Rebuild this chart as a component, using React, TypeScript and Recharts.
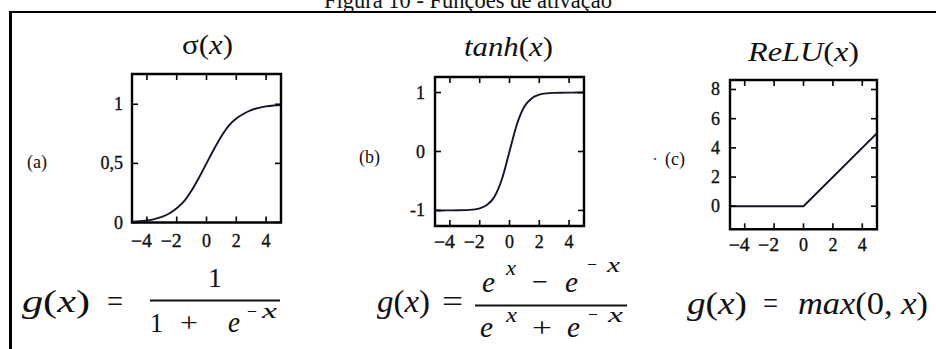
import React from 'react';
import { LineChart, Line, XAxis, YAxis, ReferenceArea } from 'recharts';

// ---- data ----
const xTicks = [-4, -2, 0, 2, 4];
const xTickLabels = ['−4', '−2', '0', '2', '4'];

const curveX = [-5, -4.5, -4, -3.5, -3, -2.5, -2, -1.5, -1, -0.5, 0, 0.5, 1, 1.5, 2, 2.5, 3, 3.5, 4, 4.5, 5];
const sigmoidY = [0.007, 0.011, 0.018, 0.029, 0.047, 0.076, 0.12, 0.18, 0.27, 0.38, 0.5, 0.62, 0.73, 0.82, 0.88, 0.92, 0.95, 0.97, 0.982, 0.989, 0.993];
const tanhY = [-1, -1, -0.999, -0.998, -0.995, -0.987, -0.964, -0.905, -0.762, -0.462, 0, 0.462, 0.762, 0.905, 0.964, 0.987, 0.995, 0.998, 0.999, 1, 1];
const reluX = [-5, 0, 5];
const reluY = [0, 0, 5];

const sigmoidTicks = [0, 0.5, 1];
const sigmoidTickLabels = ['0', '0,5', '1'];
const tanhTicks = [-1, 0, 1];
const tanhTickLabels = ['-1', '0', '1'];
const reluTicks = [0, 2, 4, 6, 8];
const reluTickLabels = ['0', '2', '4', '6', '8'];

const sigmoidData = curveX.map((x, i) => ({ x, y: sigmoidY[i] }));
const tanhData = curveX.map((x, i) => ({ x, y: tanhY[i] }));
const reluData = reluX.map((x, i) => ({ x, y: reluY[i] }));

// ---- styling ----
const SERIF = '"Liberation Serif", "Times New Roman", serif';
const MATH = '"Liberation Serif", serif';
const INK = '#111';
const TICK = 6;
const tickStroke = { stroke: '#000', strokeWidth: 1.6 };
const heavy = { stroke: INK, strokeWidth: 0.35 };

type Box = { x: number; y: number; w: number; h: number };

const labelOf = (ticks: number[], labels: string[], v: number) => {
  const i = ticks.indexOf(v);
  return i >= 0 ? labels[i] : '';
};

// bottom axis tick: inner tick at the bottom and at the top edge of the frame, plus the label
const bottomTick = (dy: number, h: number) => (p: any) => {
  const lbl = labelOf(xTicks, xTickLabels, p.payload.value);
  const neg = lbl.startsWith('−');
  return (
    <g>
      <line x1={p.x} y1={p.y} x2={p.x} y2={p.y - TICK} {...tickStroke} />
      <line x1={p.x} y1={p.y - h} x2={p.x} y2={p.y - h + TICK} {...tickStroke} />
      {neg ? (
        <text x={p.x + 5} y={p.y + dy} textAnchor="end" fontSize={18} fontFamily={SERIF} fill={INK}
          textLength={21} lengthAdjust="spacingAndGlyphs" {...heavy}>{lbl}</text>
      ) : (
        <text x={p.x} y={p.y + dy} textAnchor="middle" fontSize={18} fontFamily={SERIF} fill={INK} {...heavy}>{lbl}</text>
      )}
    </g>
  );
};

// left axis tick: inner tick on the left and right edges of the frame, plus the label
const leftTick = (ticks: number[], labels: string[], gap: number, w: number) => (p: any) => (
  <g>
    <line x1={p.x} y1={p.y} x2={p.x + TICK} y2={p.y} {...tickStroke} />
    <line x1={p.x + w} y1={p.y} x2={p.x + w - TICK} y2={p.y} {...tickStroke} />
    <text x={p.x - gap} y={p.y + 6} textAnchor="end" fontSize={18} fontFamily={SERIF} fill={INK} {...heavy}>
      {labelOf(ticks, labels, p.payload.value)}
    </text>
  </g>
);

type PanelProps = {
  box: Box;
  data: { x: number; y: number }[];
  yDomain: [number, number];
  yTicks: number[];
  yLabels: string[];
  curve: 'monotone' | 'linear';
  labelDy: number;
  labelGap: number;
};

function Panel({ box, data, yDomain, yTicks, yLabels, curve, labelDy, labelGap }: PanelProps) {
  const L = 60, R = 12, T = 12, B = 40;
  return (
    <div style={{ position: 'absolute', left: box.x - L, top: box.y - T }}>
      <LineChart width={box.w + L + R} height={box.h + T + B} data={data}
        margin={{ top: T, right: R, bottom: 0, left: 0 }}>
        <XAxis xAxisId="b" orientation="bottom" dataKey="x" type="number" domain={[-5, 5]}
          allowDataOverflow ticks={xTicks} interval={0} height={B} axisLine={false}
          tickLine={false} tickSize={0} tickMargin={0} tick={bottomTick(labelDy, box.h)} />
        <YAxis yAxisId="l" orientation="left" type="number" domain={yDomain} allowDataOverflow
          ticks={yTicks} interval={0} width={L} axisLine={false}
          tickLine={false} tickSize={0} tickMargin={0} tick={leftTick(yTicks, yLabels, labelGap, box.w)} />
        {/* frame around the plotting area */}
        <ReferenceArea xAxisId="b" yAxisId="l" x1={-5} x2={5} y1={yDomain[0]} y2={yDomain[1]}
          ifOverflow="visible" fill="none" fillOpacity={0} stroke="#000" strokeWidth={2.4} strokeOpacity={1} />
        <Line xAxisId="b" yAxisId="l" dataKey="y" type={curve} stroke="#141428" strokeWidth={1.9}
          dot={false} activeDot={false} isAnimationActive={false} />
      </LineChart>
    </div>
  );
}

export default function App() {
  return (
    <div style={{ position: 'absolute', left: 0, top: 0, width: 936, height: 349, background: '#fff', overflow: 'hidden' }}>
      <svg width={936} height={349} style={{ position: 'absolute', left: 0, top: 0 }}>
        {/* figure caption, partly above the visible area */}
        <text x={468} y={8} textAnchor="middle" fontSize={24} fontFamily={SERIF} fill={INK}
          textLength={288} lengthAdjust="spacingAndGlyphs">Figura 10 - Funções de ativação</text>
        {/* outer frame */}
        <line x1={9} y1={12} x2={936} y2={12} stroke="#000" strokeWidth={2.2} />
        <line x1={10.5} y1={11} x2={10.5} y2={349} stroke="#000" strokeWidth={3} />

        {/* panel titles */}
        <text x={182} y={54} fontSize={28} fontFamily={SERIF} fill={INK} textLength={51} lengthAdjust="spacingAndGlyphs">
          σ(<tspan fontStyle="italic">x</tspan>)
        </text>
        <text x={464} y={56} fontSize={28} fontFamily={SERIF} fill={INK} textLength={89} lengthAdjust="spacingAndGlyphs">
          <tspan fontStyle="italic">tanh</tspan>(<tspan fontStyle="italic">x</tspan>)
        </text>
        <text x={748} y={61} fontSize={28} fontFamily={SERIF} fill={INK} textLength={111} lengthAdjust="spacingAndGlyphs">
          <tspan fontStyle="italic">ReLU</tspan>(<tspan fontStyle="italic">x</tspan>)
        </text>

        {/* panel letters */}
        <text x={27} y={168} fontSize={18} fontFamily={SERIF} fill={INK}>(a)</text>
        <text x={359} y={163} fontSize={18} fontFamily={SERIF} fill={INK}>(b)</text>
        <text x={652} y={165} fontSize={18} fontFamily={SERIF} fill="#555">·</text>
        <text x={665} y={165} fontSize={18} fontFamily={SERIF} fill={INK}>(c)</text>

        {/* formula: sigmoid */}
        <g fontFamily={MATH} fill={INK}>
          <text x={22} y={312} fontSize={32} textLength={68} lengthAdjust="spacingAndGlyphs">
            <tspan fontStyle="italic">g</tspan>(<tspan fontStyle="italic">x</tspan>)
          </text>
          <text x={107} y={312} fontSize={32} textLength={16} lengthAdjust="spacingAndGlyphs">=</text>
          <text x={208} y={287} fontSize={28} textLength={14} lengthAdjust="spacingAndGlyphs">1</text>
          <line x1={150} y1={300.5} x2={280} y2={300.5} stroke={INK} strokeWidth={2.2} />
          <text x={150} y={332} fontSize={28} textLength={13} lengthAdjust="spacingAndGlyphs">1</text>
          <text x={180} y={332} fontSize={28} textLength={18} lengthAdjust="spacingAndGlyphs">+</text>
          <text x={228} y={332} fontSize={30} fontStyle="italic" textLength={12} lengthAdjust="spacingAndGlyphs">e</text>
          <text x={247} y={318} fontSize={20} textLength={10} lengthAdjust="spacingAndGlyphs">−</text>
          <text x={262} y={318} fontSize={22} fontStyle="italic" textLength={15} lengthAdjust="spacingAndGlyphs">x</text>
        </g>

        {/* formula: tanh */}
        <g fontFamily={MATH} fill={INK}>
          <text x={377} y={312} fontSize={32} textLength={53} lengthAdjust="spacingAndGlyphs">
            <tspan fontStyle="italic">g</tspan>(<tspan fontStyle="italic">x</tspan>)
          </text>
          <text x={442} y={312} fontSize={32} textLength={21} lengthAdjust="spacingAndGlyphs">=</text>
          <text x={482} y={292} fontSize={30} fontStyle="italic" textLength={13} lengthAdjust="spacingAndGlyphs">e</text>
          <text x={506} y={275} fontSize={22} fontStyle="italic" textLength={10} lengthAdjust="spacingAndGlyphs">x</text>
          <text x={532} y={291} fontSize={28} textLength={16} lengthAdjust="spacingAndGlyphs">−</text>
          <text x={565} y={292} fontSize={30} fontStyle="italic" textLength={13} lengthAdjust="spacingAndGlyphs">e</text>
          <text x={587} y={271} fontSize={20} textLength={10} lengthAdjust="spacingAndGlyphs">−</text>
          <text x={607} y={272} fontSize={22} fontStyle="italic" textLength={13} lengthAdjust="spacingAndGlyphs">x</text>
          <line x1={475} y1={305.5} x2={627} y2={305.5} stroke={INK} strokeWidth={2.2} />
          <text x={480} y={337} fontSize={30} fontStyle="italic" textLength={13} lengthAdjust="spacingAndGlyphs">e</text>
          <text x={506} y={322} fontSize={22} fontStyle="italic" textLength={11} lengthAdjust="spacingAndGlyphs">x</text>
          <text x={532} y={337} fontSize={28} textLength={20} lengthAdjust="spacingAndGlyphs">+</text>
          <text x={567} y={337} fontSize={30} fontStyle="italic" textLength={13} lengthAdjust="spacingAndGlyphs">e</text>
          <text x={588} y={321} fontSize={20} textLength={10} lengthAdjust="spacingAndGlyphs">−</text>
          <text x={608} y={322} fontSize={22} fontStyle="italic" textLength={15} lengthAdjust="spacingAndGlyphs">x</text>
        </g>

        {/* formula: ReLU */}
        <g fontFamily={MATH} fill={INK}>
          <text x={687} y={314} fontSize={32} textLength={60} lengthAdjust="spacingAndGlyphs">
            <tspan fontStyle="italic">g</tspan>(<tspan fontStyle="italic">x</tspan>)
          </text>
          <text x={763} y={314} fontSize={32} textLength={15} lengthAdjust="spacingAndGlyphs">=</text>
          <text x={798} y={314} fontSize={32} textLength={130} lengthAdjust="spacingAndGlyphs">
            <tspan fontStyle="italic">max</tspan>(0, <tspan fontStyle="italic">x</tspan>)
          </text>
        </g>
      </svg>

      <Panel box={{ x: 132, y: 74, w: 149, h: 148.5 }} data={sigmoidData} yDomain={[0, 1.256]}
        yTicks={sigmoidTicks} yLabels={sigmoidTickLabels} curve="monotone" labelDy={24} labelGap={9} />
      <Panel box={{ x: 434.5, y: 76.5, w: 149, h: 149 }} data={tanhData} yDomain={[-1.264, 1.264]}
        yTicks={tanhTicks} yLabels={tanhTickLabels} curve="monotone" labelDy={22} labelGap={10} />
      <Panel box={{ x: 730, y: 80, w: 147, h: 149.3 }} data={reluData} yDomain={[-1.58, 8.65]}
        yTicks={reluTicks} yLabels={reluTickLabels} curve="linear" labelDy={22} labelGap={10} />
    </div>
  );
}
